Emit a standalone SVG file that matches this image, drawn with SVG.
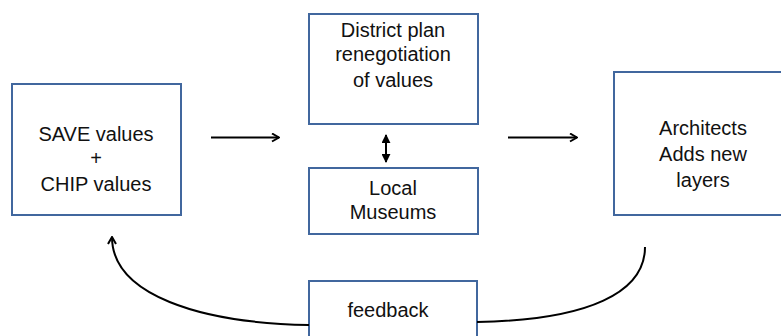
<svg xmlns="http://www.w3.org/2000/svg" width="781" height="336" viewBox="0 0 781 336">
<style>
.box{fill:#fff;stroke:#41679e;stroke-width:2}
.t{font-family:"Liberation Sans",Arial,sans-serif;font-size:20px;fill:#111;text-anchor:middle}
.c{fill:none;stroke:#000;stroke-width:2}
</style>
<defs>
<marker id="open" viewBox="0 0 10 10" refX="9" refY="5" markerWidth="10" markerHeight="10" markerUnits="userSpaceOnUse" orient="auto">
<path d="M2,1 L9,5 L2,9" fill="none" stroke="#000" stroke-width="2"/>
</marker>
<marker id="fill" viewBox="0 0 10 10" refX="9" refY="5" markerWidth="9" markerHeight="9" markerUnits="userSpaceOnUse" orient="auto-start-reverse">
<path d="M0,0 L10,5 L0,10 Z" fill="#000"/>
</marker>
</defs>
<rect width="781" height="336" fill="#fff"/>
<g id="save">
<rect class="box" x="12" y="84" width="169" height="131"/>
<text class="t" x="96" y="141">SAVE values</text>
<text class="t" x="96" y="165">+</text>
<text class="t" x="96" y="191">CHIP values</text>
</g>
<g id="district">
<rect class="box" x="309" y="14" width="169" height="110"/>
<text class="t" x="393" y="37">District plan</text>
<text class="t" x="393" y="61">renegotiation</text>
<text class="t" x="393" y="87">of values</text>
</g>
<g id="museums">
<rect class="box" x="309" y="168" width="169" height="66"/>
<text class="t" x="393" y="195">Local</text>
<text class="t" x="393" y="219">Museums</text>
</g>
<g id="architects">
<rect class="box" x="614" y="72" width="180" height="143"/>
<text class="t" x="703" y="135">Architects</text>
<text class="t" x="703" y="161">Adds new</text>
<text class="t" x="703" y="187">layers</text>
</g>
<g id="feedback">
<rect class="box" x="309" y="281" width="168" height="70"/>
<text class="t" x="388" y="317">feedback</text>
</g>
<g id="connectors">
<line class="c" x1="211" y1="137.5" x2="279" y2="137.5" marker-end="url(#open)"/>
<line class="c" x1="508" y1="137.5" x2="577" y2="137.5" marker-end="url(#open)"/>
<line class="c" x1="386" y1="135" x2="386" y2="162" marker-start="url(#fill)" marker-end="url(#fill)"/>
<path class="c" d="M309,325 C200,323 112,295 112,237" marker-end="url(#open)"/>
<path class="c" d="M477,322 C590,320 645,292 645,247"/>
</g>
</svg>
